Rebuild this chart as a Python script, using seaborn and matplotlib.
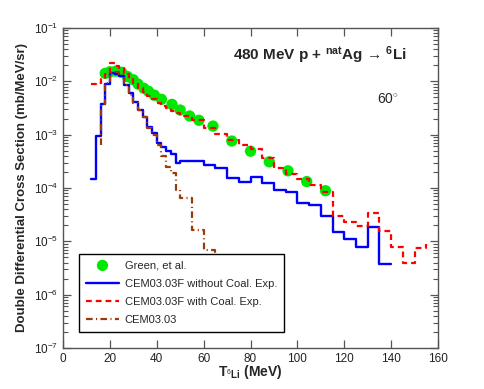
import numpy as np
import matplotlib
matplotlib.use("Agg")
import matplotlib.pyplot as plt
import seaborn as sns

# --- data ------------------------------------------------------------------
# Green, et al. (experiment)
exp_T = [18, 20, 22.5, 25, 27.5, 30, 32, 34.5, 36.5, 39, 42, 46.5, 50, 54, 58,
         64, 72, 80, 88, 96, 104, 112]
exp_xs = [1.41e-2, 1.51e-2, 1.55e-2, 1.48e-2, 1.23e-2, 1.07e-2, 8.9e-3, 7.4e-3,
          6.5e-3, 5.5e-3, 4.6e-3, 3.7e-3, 2.9e-3, 2.24e-3, 1.86e-3, 1.45e-3,
          7.6e-4, 4.9e-4, 3.1e-4, 2.1e-4, 1.32e-4, 8.9e-5]

# CEM03.03F without coalescence expansion (histogram, bin edges + values)
blue_edges = list(range(12, 51, 2)) + list(range(55, 141, 5))
blue_vals = [1.48e-4, 9.4e-4, 3.7e-3, 9.1e-3, 1.41e-2, 1.40e-2, 1.27e-2, 8.5e-3,
             5.96e-3, 4.14e-3, 2.88e-3, 2.18e-3, 1.42e-3, 1.06e-3, 6.9e-4,
             5.9e-4, 5.0e-4, 4.3e-4, 2.9e-4,
             3.2e-4, 3.2e-4, 2.69e-4, 2.36e-4, 1.53e-4, 1.31e-4, 1.60e-4,
             1.22e-4, 9.1e-5, 8.5e-5, 5.3e-5, 4.9e-5, 3.0e-5, 1.5e-5, 1.13e-5,
             7.7e-6, 1.87e-5, 3.8e-6]

# CEM03.03F with coalescence expansion
red_edges = list(range(12, 51, 2)) + list(range(55, 156, 5))
red_vals = [8.8e-3, 9.3e-3, 1.1e-2, 1.4e-2, 2.17e-2, 1.95e-2, 1.75e-2, 1.35e-2,
            1.1e-2, 9.2e-3, 7.6e-3, 6.4e-3, 5.2e-3, 4.6e-3, 4.0e-3, 3.5e-3,
            3.1e-3, 2.8e-3, 2.5e-3,
            2.24e-3, 1.86e-3, 1.32e-3, 1.02e-3, 7.9e-4, 6.4e-4, 5.3e-4, 3.6e-4,
            2.34e-4, 1.8e-4, 1.5e-4, 1.12e-4, 8.5e-5, 3.0e-5, 2.33e-5, 1.93e-5,
            3.47e-5, 1.55e-5, 7.8e-6, 3.9e-6, 7.6e-6]
red_last = 9.0e-6

# CEM03.03
brown_edges = list(range(16, 51, 2)) + list(range(55, 71, 5))
brown_start = 6.5e-4
brown_vals = [3.7e-3, 9.5e-3, 1.45e-2, 1.5e-2, 1.35e-2, 8.5e-3, 5.6e-3, 4.0e-3,
              2.9e-3, 2.1e-3, 1.35e-3, 1.0e-3, 6.4e-4, 4.0e-4, 2.5e-4, 1.93e-4,
              9.3e-5, 6.6e-5, 1.66e-5, 6.8e-6, 2.0e-6]

labels = ["Green, et al.", "CEM03.03F without Coal. Exp.",
          "CEM03.03F with Coal. Exp.", "CEM03.03"]

sns.set_theme(style="ticks")
plt.rcParams["font.family"] = ["Liberation Sans", "DejaVu Sans"]
plt.rcParams["mathtext.fontset"] = "custom"
plt.rcParams["mathtext.rm"] = "Liberation Sans"
plt.rcParams["mathtext.bf"] = "Liberation Sans:bold"
plt.rcParams["mathtext.it"] = "Liberation Sans:italic"

fig = plt.figure(figsize=(4.84, 3.89), dpi=100)
ax = fig.add_axes([63 / 484, 1 - 348 / 389, 375 / 484, 320 / 389])

sns.scatterplot(x=exp_T, y=exp_xs, ax=ax, s=66, color="#00e800",
                edgecolor="none", zorder=2, label=labels[0])

sns.lineplot(x=blue_edges, y=blue_vals + [blue_vals[-1]], ax=ax,
             drawstyle="steps-post", color="#0000ff", lw=1.7,
             estimator=None, sort=False, zorder=3, label=labels[1])

sns.lineplot(x=[brown_edges[0]] + brown_edges,
             y=[brown_start] + brown_vals + [brown_vals[-1]], ax=ax,
             drawstyle="steps-post", color="#9c3a0a", lw=1.6,
             linestyle=(0, (3.0, 1.5, 0.5, 1.5)),
             estimator=None, sort=False, zorder=4, label=labels[3])

sns.lineplot(x=red_edges + [red_edges[-1]],
             y=red_vals + [red_vals[-1], red_last], ax=ax,
             drawstyle="steps-post", color="#ff0000", lw=1.6,
             linestyle=(0, (2.6, 1.8)),
             estimator=None, sort=False, zorder=5, label=labels[2])

ax.set_yscale("log")
ax.set_xlim(0, 160)
ax.set_ylim(1e-7, 1e-1)
ax.set_xticks(range(0, 161, 20))

for sp in ax.spines.values():
    sp.set_color("#555555")
    sp.set_linewidth(1.0)
ax.tick_params(which="both", direction="in", top=True, right=True,
               colors="#555555", labelcolor="#222222", labelsize=8.5)
ax.tick_params(which="major", length=6, width=0.9)
ax.tick_params(which="minor", length=3.5, width=0.8)
ax.tick_params(axis="x", which="minor", length=0)

ax.set_xlabel(r"$\mathbf{T}_{^{6}\mathbf{Li}}$ (MeV)",
              fontsize=10, fontweight="bold", labelpad=-1)
ax.set_ylabel("Double Differential Cross Section (mb/MeV/sr)",
              fontsize=9.5, fontweight="bold", labelpad=4)

ax.text(0.453, 0.916,
        r"480 MeV p + $^{\mathbf{nat}}$Ag → $^{\mathbf{6}}$Li",
        transform=ax.transAxes, ha="left", va="center",
        fontsize=11, fontweight="bold")
ax.text(0.837, 0.775, r"60$^{\circ}$", transform=ax.transAxes,
        ha="left", va="center", fontsize=10)

h, l = ax.get_legend_handles_labels()
order = [l.index(s) for s in labels]
leg = ax.legend([h[i] for i in order], [l[i] for i in order],
                loc="lower left", bbox_to_anchor=(0.043, 0.05),
                fontsize=8, frameon=True, fancybox=False, framealpha=1,
                edgecolor="black", handlelength=3.0, handletextpad=0.5,
                labelspacing=0.75, borderpad=0.6, borderaxespad=0)
leg.get_frame().set_linewidth(1.0)
leg.set_zorder(10)

fig.savefig("out.png", dpi=100, facecolor="white")
